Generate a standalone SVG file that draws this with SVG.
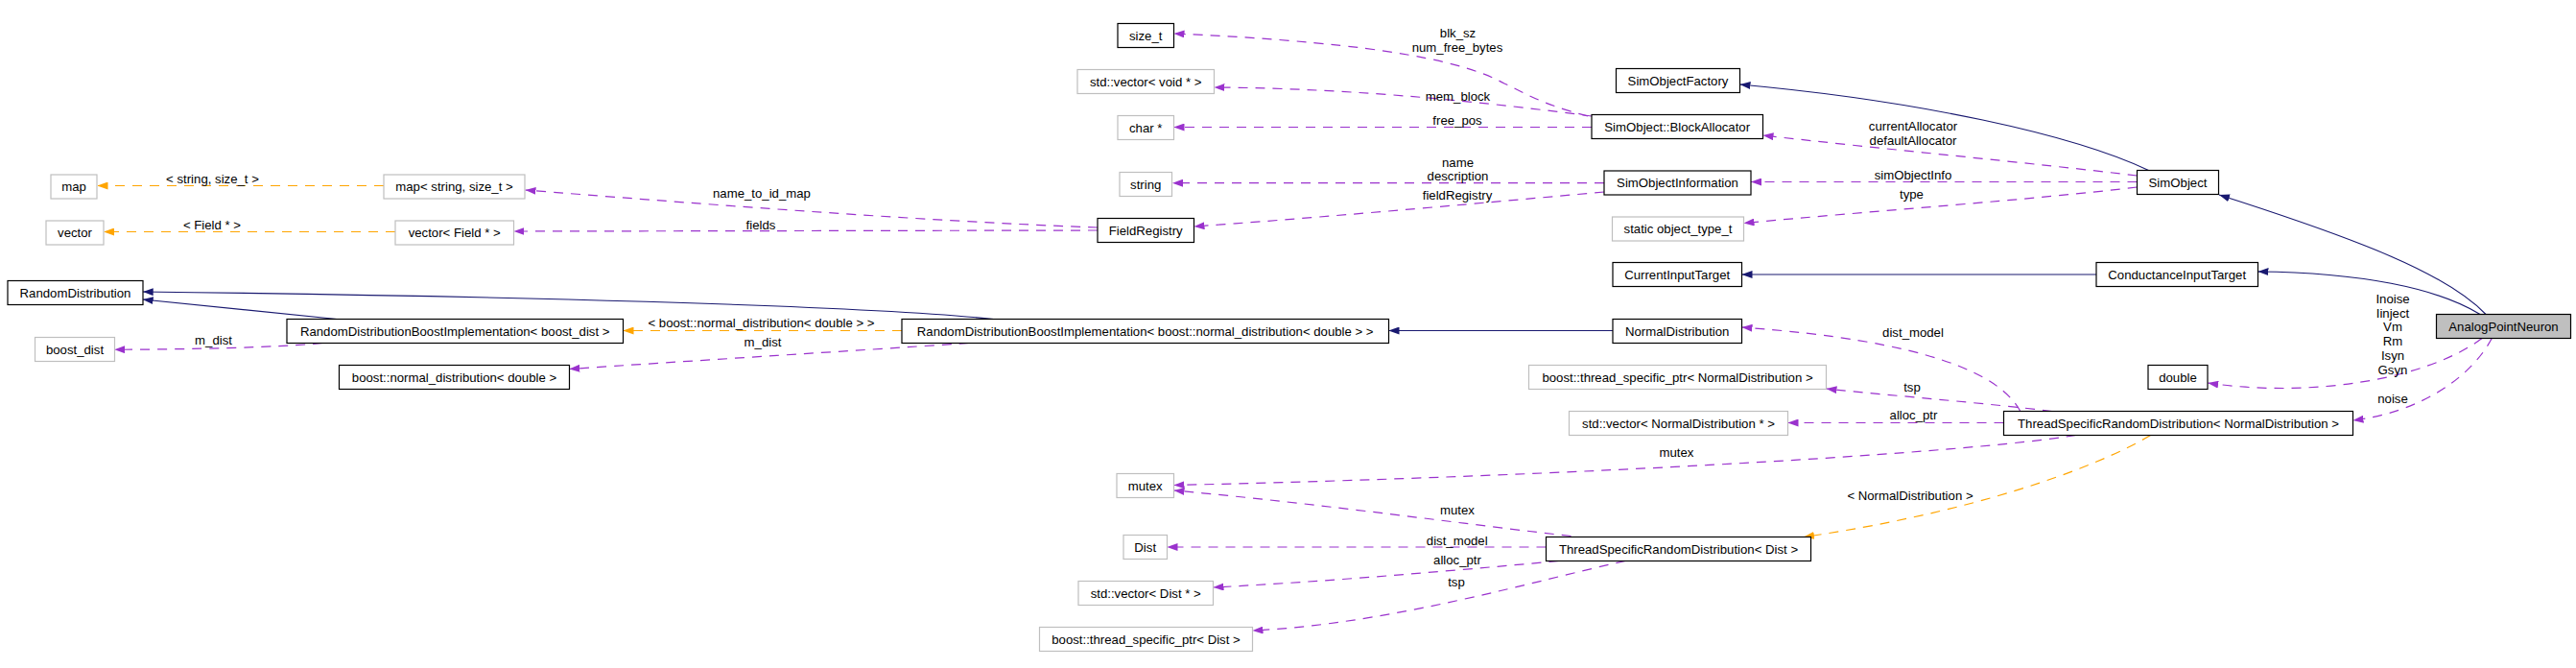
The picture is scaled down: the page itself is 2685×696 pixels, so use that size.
<svg xmlns="http://www.w3.org/2000/svg" width="2685" height="696" viewBox="0 0 2685 696">
<style>
  text { font-family: "Liberation Sans", Arial, sans-serif; font-size: 13.2px; fill: #000; }
  .nt { text-anchor: middle; }
  .lb { text-anchor: middle; }
  .b { fill: #fff; stroke: #000; stroke-width: 1.2; }
  .g { fill: #fff; stroke: #bfbfbf; stroke-width: 1.2; }
  .m { fill: #bfbfbf; stroke: #000; stroke-width: 1.2; }
  .inh { fill: none; stroke: #191970; stroke-width: 1.1; marker-end: url(#aN); }
  .use { fill: none; stroke: #9a32cd; stroke-width: 1.2; stroke-dasharray: 10,8; marker-end: url(#aP); }
  .tpl { fill: none; stroke: #ffa500; stroke-width: 1.2; stroke-dasharray: 10,8; marker-end: url(#aO); }
</style>
<defs>
  <marker id="aN" viewBox="0 0 11 8" refX="11" refY="4" markerWidth="11" markerHeight="8" markerUnits="userSpaceOnUse" orient="auto"><path d="M0,0 L11,4 L0,8 z" fill="#191970"/></marker>
  <marker id="aP" viewBox="0 0 11 8" refX="11" refY="4" markerWidth="11" markerHeight="8" markerUnits="userSpaceOnUse" orient="auto"><path d="M0,0 L11,4 L0,8 z" fill="#9a32cd"/></marker>
  <marker id="aO" viewBox="0 0 11 8" refX="11" refY="4" markerWidth="11" markerHeight="8" markerUnits="userSpaceOnUse" orient="auto"><path d="M0,0 L11,4 L0,8 z" fill="#ffa500"/></marker>
</defs>
<rect width="2685" height="696" fill="#fff"/>

<g id="connectors">
  <path class="inh" d="M2591,327.5 C2550,285 2460,250 2313,203"/>
  <path class="inh" d="M2585,327.5 C2540,300 2460,284 2353.5,283"/>
  <path class="inh" d="M2185,286 L1815.5,286"/>
  <path class="inh" d="M2239.5,177.5 C2160,140 2000,105 1813.5,88"/>
  <path class="use" d="M2227.5,183 C2120,170 1960,155 1837.5,141"/>
  <path class="use" d="M2227.5,189.5 L1825,189.5"/>
  <path class="use" d="M2227.5,195 C2120,208 1950,220 1817.5,232.5"/>
  <path class="use" d="M1655,121 C1605,108 1590,97 1568,87 C1530,66 1450,45 1223.5,35"/>
  <path class="use" d="M1659,121 C1560,108 1420,92 1265.5,91"/>
  <path class="use" d="M1659,132.5 L1223.5,132.5"/>
  <path class="use" d="M1672,190.7 L1222,190.7"/>
  <path class="use" d="M1672,200 C1560,210 1400,225 1244.5,236"/>
  <path class="use" d="M1144,237 C950,230 700,210 547.5,198"/>
  <path class="use" d="M1144,240 L535.5,241"/>
  <path class="tpl" d="M400,193.5 L101.5,193.5"/>
  <path class="tpl" d="M412,241.5 L108,241.5"/>
  <path class="inh" d="M351,332.5 L148.7,312"/>
  <path class="inh" d="M1035.5,332.5 C900,318 500,308 148.7,304"/>
  <path class="tpl" d="M940,344.5 L649.5,344.5"/>
  <path class="use" d="M336,357.5 C290,362 200,364 119.3,364.3"/>
  <path class="use" d="M1009.5,357.5 C880,366 720,376 593.3,384.5"/>
  <path class="inh" d="M1681,344.5 L1447.5,344.5"/>
  <path class="use" d="M2105.8,428.5 C2085,390 2010,355 1815.5,341"/>
  <path class="use" d="M2138.7,428.5 C2070,420 1980,413 1903.5,405"/>
  <path class="use" d="M2088.5,440.5 L1863.5,440.5"/>
  <path class="use" d="M2163.5,453.5 C2050,472 1650,496 1223.5,505.5"/>
  <path class="use" d="M1637.5,558.5 C1540,548 1380,525 1223.5,511"/>
  <path class="use" d="M1611.5,570 L1216.5,570"/>
  <path class="use" d="M1624.5,584.5 C1500,596 1380,606 1264.5,612"/>
  <path class="use" d="M1694,584.5 C1600,605 1450,650 1305.5,657"/>
  <path class="tpl" d="M2241.5,453.5 C2180,490 2050,535 1880,559.5"/>
  <path class="use" d="M2587,352.5 C2530,395 2410,415 2301.2,399"/>
  <path class="use" d="M2597.5,352 C2575,395 2520,430 2452.5,438"/>

  <text class="lb" x="1519.5" y="39">blk_sz</text>
  <text class="lb" x="1519" y="53.5">num_free_bytes</text>
  <text class="lb" x="1519.5" y="105">mem_block</text>
  <text class="lb" x="1519" y="129.5">free_pos</text>
  <text class="lb" x="1519.5" y="173.5">name</text>
  <text class="lb" x="1519.5" y="188">description</text>
  <text class="lb" x="1519" y="208">fieldRegistry</text>
  <text class="lb" x="1994" y="136">currentAllocator</text>
  <text class="lb" x="1994" y="151">defaultAllocator</text>
  <text class="lb" x="1994" y="187">simObjectInfo</text>
  <text class="lb" x="1992.5" y="207">type</text>
  <text class="lb" x="221.5" y="191">&lt; string, size_t &gt;</text>
  <text class="lb" x="221" y="239">&lt; Field * &gt;</text>
  <text class="lb" x="794" y="205.5">name_to_id_map</text>
  <text class="lb" x="793" y="239">fields</text>
  <text class="lb" x="793.5" y="341">&lt; boost::normal_distribution&lt; double &gt; &gt;</text>
  <text class="lb" x="222.5" y="358.5">m_dist</text>
  <text class="lb" x="795" y="361">m_dist</text>
  <text class="lb" x="1994" y="351">dist_model</text>
  <text class="lb" x="1993" y="408">tsp</text>
  <text class="lb" x="1994.5" y="437">alloc_ptr</text>
  <text class="lb" x="1747.5" y="476">mutex</text>
  <text class="lb" x="1991" y="521">&lt; NormalDistribution &gt;</text>
  <text class="lb" x="1519" y="536">mutex</text>
  <text class="lb" x="1518.7" y="568">dist_model</text>
  <text class="lb" x="1519" y="587.5">alloc_ptr</text>
  <text class="lb" x="1518" y="611">tsp</text>
  <text class="lb" x="2494" y="316">Inoise</text>
  <text class="lb" x="2494" y="331">Iinject</text>
  <text class="lb" x="2494" y="345">Vm</text>
  <text class="lb" x="2494" y="360">Rm</text>
  <text class="lb" x="2494" y="375">Isyn</text>
  <text class="lb" x="2494" y="389.5">Gsyn</text>
  <text class="lb" x="2494" y="419.5">noise</text>
</g>

<g id="n_map"><rect class="g" x="53" y="182" width="48" height="25"/><text class="nt" x="77" y="199">map</text></g>
<g id="n_map_string_size_t"><rect class="g" x="400" y="182" width="147" height="25"/><text class="nt" x="473.5" y="199">map&lt; string, size_t &gt;</text></g>
<g id="n_vector"><rect class="g" x="48" y="230" width="60" height="25"/><text class="nt" x="78" y="247">vector</text></g>
<g id="n_vector_field"><rect class="g" x="412" y="230" width="123.5" height="25"/><text class="nt" x="473.7" y="247">vector&lt; Field * &gt;</text></g>
<g id="n_RandomDistribution"><rect class="b" x="8" y="292.5" width="141" height="25"/><text class="nt" x="78.5" y="309.5">RandomDistribution</text></g>
<g id="n_RDBI_boost_dist"><rect class="b" x="299" y="332.5" width="350.5" height="25"/><text class="nt" x="474.2" y="349.5">RandomDistributionBoostImplementation&lt; boost_dist &gt;</text></g>
<g id="n_boost_dist"><rect class="g" x="36.5" y="351.5" width="83" height="25"/><text class="nt" x="78" y="368.5">boost_dist</text></g>
<g id="n_boost_normal_distribution"><rect class="b" x="353.5" y="380.5" width="240" height="25"/><text class="nt" x="473.5" y="397.5">boost::normal_distribution&lt; double &gt;</text></g>
<g id="n_size_t"><rect class="b" x="1165" y="24.5" width="58.5" height="25"/><text class="nt" x="1194.2" y="41.5">size_t</text></g>
<g id="n_std_vector_void"><rect class="g" x="1123" y="72.5" width="142.5" height="25"/><text class="nt" x="1194.2" y="89.5">std::vector&lt; void * &gt;</text></g>
<g id="n_char_ptr"><rect class="g" x="1165" y="120.5" width="58.5" height="25"/><text class="nt" x="1194.2" y="137.5">char *</text></g>
<g id="n_string"><rect class="g" x="1167" y="179.5" width="54.5" height="25"/><text class="nt" x="1194.2" y="196.5">string</text></g>
<g id="n_FieldRegistry"><rect class="b" x="1144" y="227.5" width="100.5" height="25"/><text class="nt" x="1194.2" y="244.5">FieldRegistry</text></g>
<g id="n_RDBI_normal"><rect class="b" x="940" y="332.5" width="507.5" height="25"/><text class="nt" x="1193.7" y="349.5">RandomDistributionBoostImplementation&lt; boost::normal_distribution&lt; double &gt; &gt;</text></g>
<g id="n_mutex"><rect class="g" x="1164" y="493.5" width="59.5" height="25"/><text class="nt" x="1193.7" y="510.5">mutex</text></g>
<g id="n_Dist"><rect class="g" x="1171" y="557.5" width="45.5" height="25"/><text class="nt" x="1193.7" y="574.5">Dist</text></g>
<g id="n_std_vector_Dist"><rect class="g" x="1124" y="605.5" width="140.5" height="25"/><text class="nt" x="1194.2" y="622.5">std::vector&lt; Dist * &gt;</text></g>
<g id="n_tsp_Dist"><rect class="g" x="1083.5" y="653.5" width="222" height="25"/><text class="nt" x="1194.5" y="670.5">boost::thread_specific_ptr&lt; Dist &gt;</text></g>
<g id="n_SimObjectFactory"><rect class="b" x="1684.5" y="71.5" width="129" height="25"/><text class="nt" x="1749" y="88.5">SimObjectFactory</text></g>
<g id="n_BlockAllocator"><rect class="b" x="1659" y="119.5" width="178.5" height="25"/><text class="nt" x="1748.2" y="136.5">SimObject::BlockAllocator</text></g>
<g id="n_SimObjectInformation"><rect class="b" x="1672" y="178" width="153" height="25"/><text class="nt" x="1748.5" y="195">SimObjectInformation</text></g>
<g id="n_static_object_type_t"><rect class="g" x="1680.5" y="226" width="137" height="25"/><text class="nt" x="1749" y="243">static object_type_t</text></g>
<g id="n_CurrentInputTarget"><rect class="b" x="1681" y="273.5" width="134.5" height="25"/><text class="nt" x="1748.2" y="290.5">CurrentInputTarget</text></g>
<g id="n_NormalDistribution"><rect class="b" x="1681" y="332.5" width="134.5" height="25"/><text class="nt" x="1748.2" y="349.5">NormalDistribution</text></g>
<g id="n_tsp_Normal"><rect class="g" x="1593.5" y="380.5" width="310" height="25"/><text class="nt" x="1748.5" y="397.5">boost::thread_specific_ptr&lt; NormalDistribution &gt;</text></g>
<g id="n_std_vector_Normal"><rect class="g" x="1635.5" y="428.5" width="228" height="25"/><text class="nt" x="1749.5" y="445.5">std::vector&lt; NormalDistribution * &gt;</text></g>
<g id="n_TSRD_Dist"><rect class="b" x="1611.5" y="559.5" width="276" height="25"/><text class="nt" x="1749.5" y="576.5">ThreadSpecificRandomDistribution&lt; Dist &gt;</text></g>
<g id="n_SimObject"><rect class="b" x="2227.5" y="177.5" width="85" height="25"/><text class="nt" x="2270" y="194.5">SimObject</text></g>
<g id="n_ConductanceInputTarget"><rect class="b" x="2185" y="273.5" width="168.5" height="25"/><text class="nt" x="2269.2" y="290.5">ConductanceInputTarget</text></g>
<g id="n_AnalogPointNeuron"><rect class="m" x="2539.5" y="327.5" width="140" height="25"/><text class="nt" x="2609.5" y="344.5">AnalogPointNeuron</text></g>
<g id="n_double"><rect class="b" x="2239" y="380.5" width="62" height="25"/><text class="nt" x="2270" y="397.5">double</text></g>
<g id="n_TSRD_Normal"><rect class="b" x="2088.5" y="428.5" width="364" height="25"/><text class="nt" x="2270.5" y="445.5">ThreadSpecificRandomDistribution&lt; NormalDistribution &gt;</text></g>
</svg>
